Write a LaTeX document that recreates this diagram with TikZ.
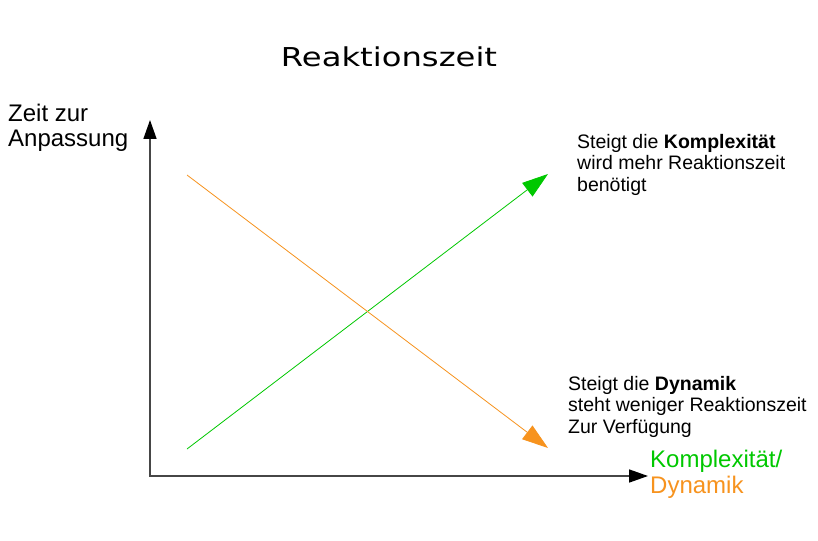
\documentclass[tikz,border=0pt]{standalone}
\usepackage{fontspec}
\setmainfont{Liberation Sans}
\newfontfamily\titlefont{DejaVu Sans}
\usetikzlibrary{arrows.meta}
\definecolor{kgreen}{RGB}{0,200,0}
\definecolor{korange}{RGB}{247,147,30}
\definecolor{axisgray}{RGB}{70,70,70}
\tikzset{
  axisline/.style={draw=axisgray, line width=1.6pt, -{Triangle[length=19pt,width=13pt,fill=black,color=black]}},
  trendline/.style={line width=0.8pt, -{Triangle[length=26pt,width=17pt]}},
  labeltext/.style={inner sep=0pt, align=left, anchor=base west},
}
\begin{document}
\begin{tikzpicture}[x=1pt,y=-1pt]
\useasboundingbox[fill=white] (0,0) rectangle (818,540);
% axes
\coordinate (o) at (150,476);
\coordinate (ytip) at (150,120);
\coordinate (xtip) at (648,476);
\draw[axisline] (o) -- (ytip);
\draw[axisline] ([xshift=-0.8pt]o) -- (xtip);
% trend lines
\coordinate (g0) at (187,449);
\coordinate (g1) at (548,174);
\coordinate (o0) at (187,175);
\coordinate (o1) at (548,448);
\draw[trendline, kgreen] (g0) -- (g1);
\draw[trendline, korange] (o0) -- (o1);
% texts (base anchor = baseline of the last line)
\node[inner sep=0pt, anchor=base] (title) at (389,67)
  {\titlefont\fontsize{26}{30}\selectfont\scalebox{1.24}[1]{Reaktionszeit}};
\node[labeltext, font=\fontsize{24}{25}\selectfont] (ylabel) at (8,147)
  {Zeit zur\\Anpassung};
\node[labeltext, font=\fontsize{19.5}{21.5}\selectfont] (text1) at (577,191)
  {Steigt die \textbf{Komplexität}\\wird mehr Reaktionszeit\\benötigt};
\node[labeltext, font=\fontsize{19.5}{21.5}\selectfont] (text2) at (568,433)
  {Steigt die \textbf{Dynamik}\\steht weniger Reaktionszeit\\Zur Verfügung};
\node[labeltext, font=\fontsize{24}{26}\selectfont] (xlabel) at (650,493)
  {\textcolor{kgreen}{Komplexität/}\\\textcolor{korange}{Dynamik}};
\end{tikzpicture}
\end{document}
